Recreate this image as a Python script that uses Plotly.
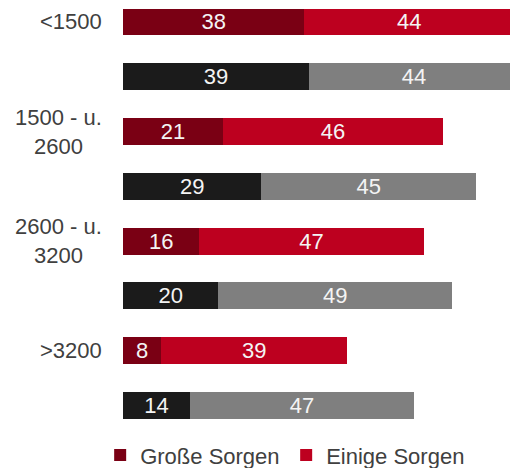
import plotly.graph_objects as go

groups = ["<1500", "1500 - u.<br>2600", "2600 - u.<br>3200", ">3200"]
grosse = [38, 21, 16, 8]
einige = [44, 46, 47, 39]
grosse_b = [39, 29, 20, 14]
einige_b = [44, 45, 49, 47]

red_rows = [2 * i for i in range(len(groups))]
blk_rows = [2 * i + 1 for i in range(len(groups))]

C_DRED = "#7a0014"
C_RED = "#bd001f"
C_BLK = "#1b1b1b"
C_GRY = "#7f7f7f"
FONT = "Liberation Sans, Arial, sans-serif"
FS = 22

fig = go.Figure()

def add(x, y, color, name, show):
    fig.add_trace(go.Bar(
        x=x, y=y, orientation="h", name=name, showlegend=show,
        marker=dict(color=color, line=dict(width=0)),
        width=0.49,
        text=[str(v) for v in x], textposition="inside",
        insidetextanchor="middle", textangle=0,
        textfont=dict(color="#f4f4f4", size=FS, family=FONT),
        hoverinfo="skip",
    ))

add(grosse, red_rows, C_DRED, "Große Sorgen", True)
add(einige, red_rows, C_RED, "Einige Sorgen", True)
add(grosse_b, blk_rows, C_BLK, "Große Sorgen (b)", False)
add(einige_b, blk_rows, C_GRY, "Einige Sorgen (b)", False)

for g, r in zip(groups, red_rows):
    fig.add_annotation(
        x=0, y=r, xref="paper", yref="y", text=g, showarrow=False,
        xanchor="right", yanchor="middle", align="center", xshift=-19,
        font=dict(size=FS, color="#404040", family=FONT),
    )

fig.update_layout(
    width=510, height=468,
    margin=dict(l=123, r=0, t=0, b=35, autoexpand=False),
    barmode="stack",
    bargap=0.5,
    plot_bgcolor="white", paper_bgcolor="white",
    xaxis=dict(range=[0, 81.1], visible=False, fixedrange=True),
    yaxis=dict(range=[7.502, -0.401], visible=False, fixedrange=True),
    showlegend=True,
    legend=dict(
        orientation="h", x=-0.059, xanchor="left", y=-0.003, yanchor="top",
        font=dict(size=FS, color="#404040", family=FONT),
        traceorder="normal", itemwidth=30,
        entrywidth=141, entrywidthmode="pixels",
        bgcolor="rgba(0,0,0,0)",
    ),
    uniformtext=dict(minsize=FS, mode="show"),
)

fig.write_html(
    "out.html",
    config={"displayModeBar": False, "staticPlot": True},
    post_script="document.body.style.margin='0';document.body.style.padding='0';",
)
